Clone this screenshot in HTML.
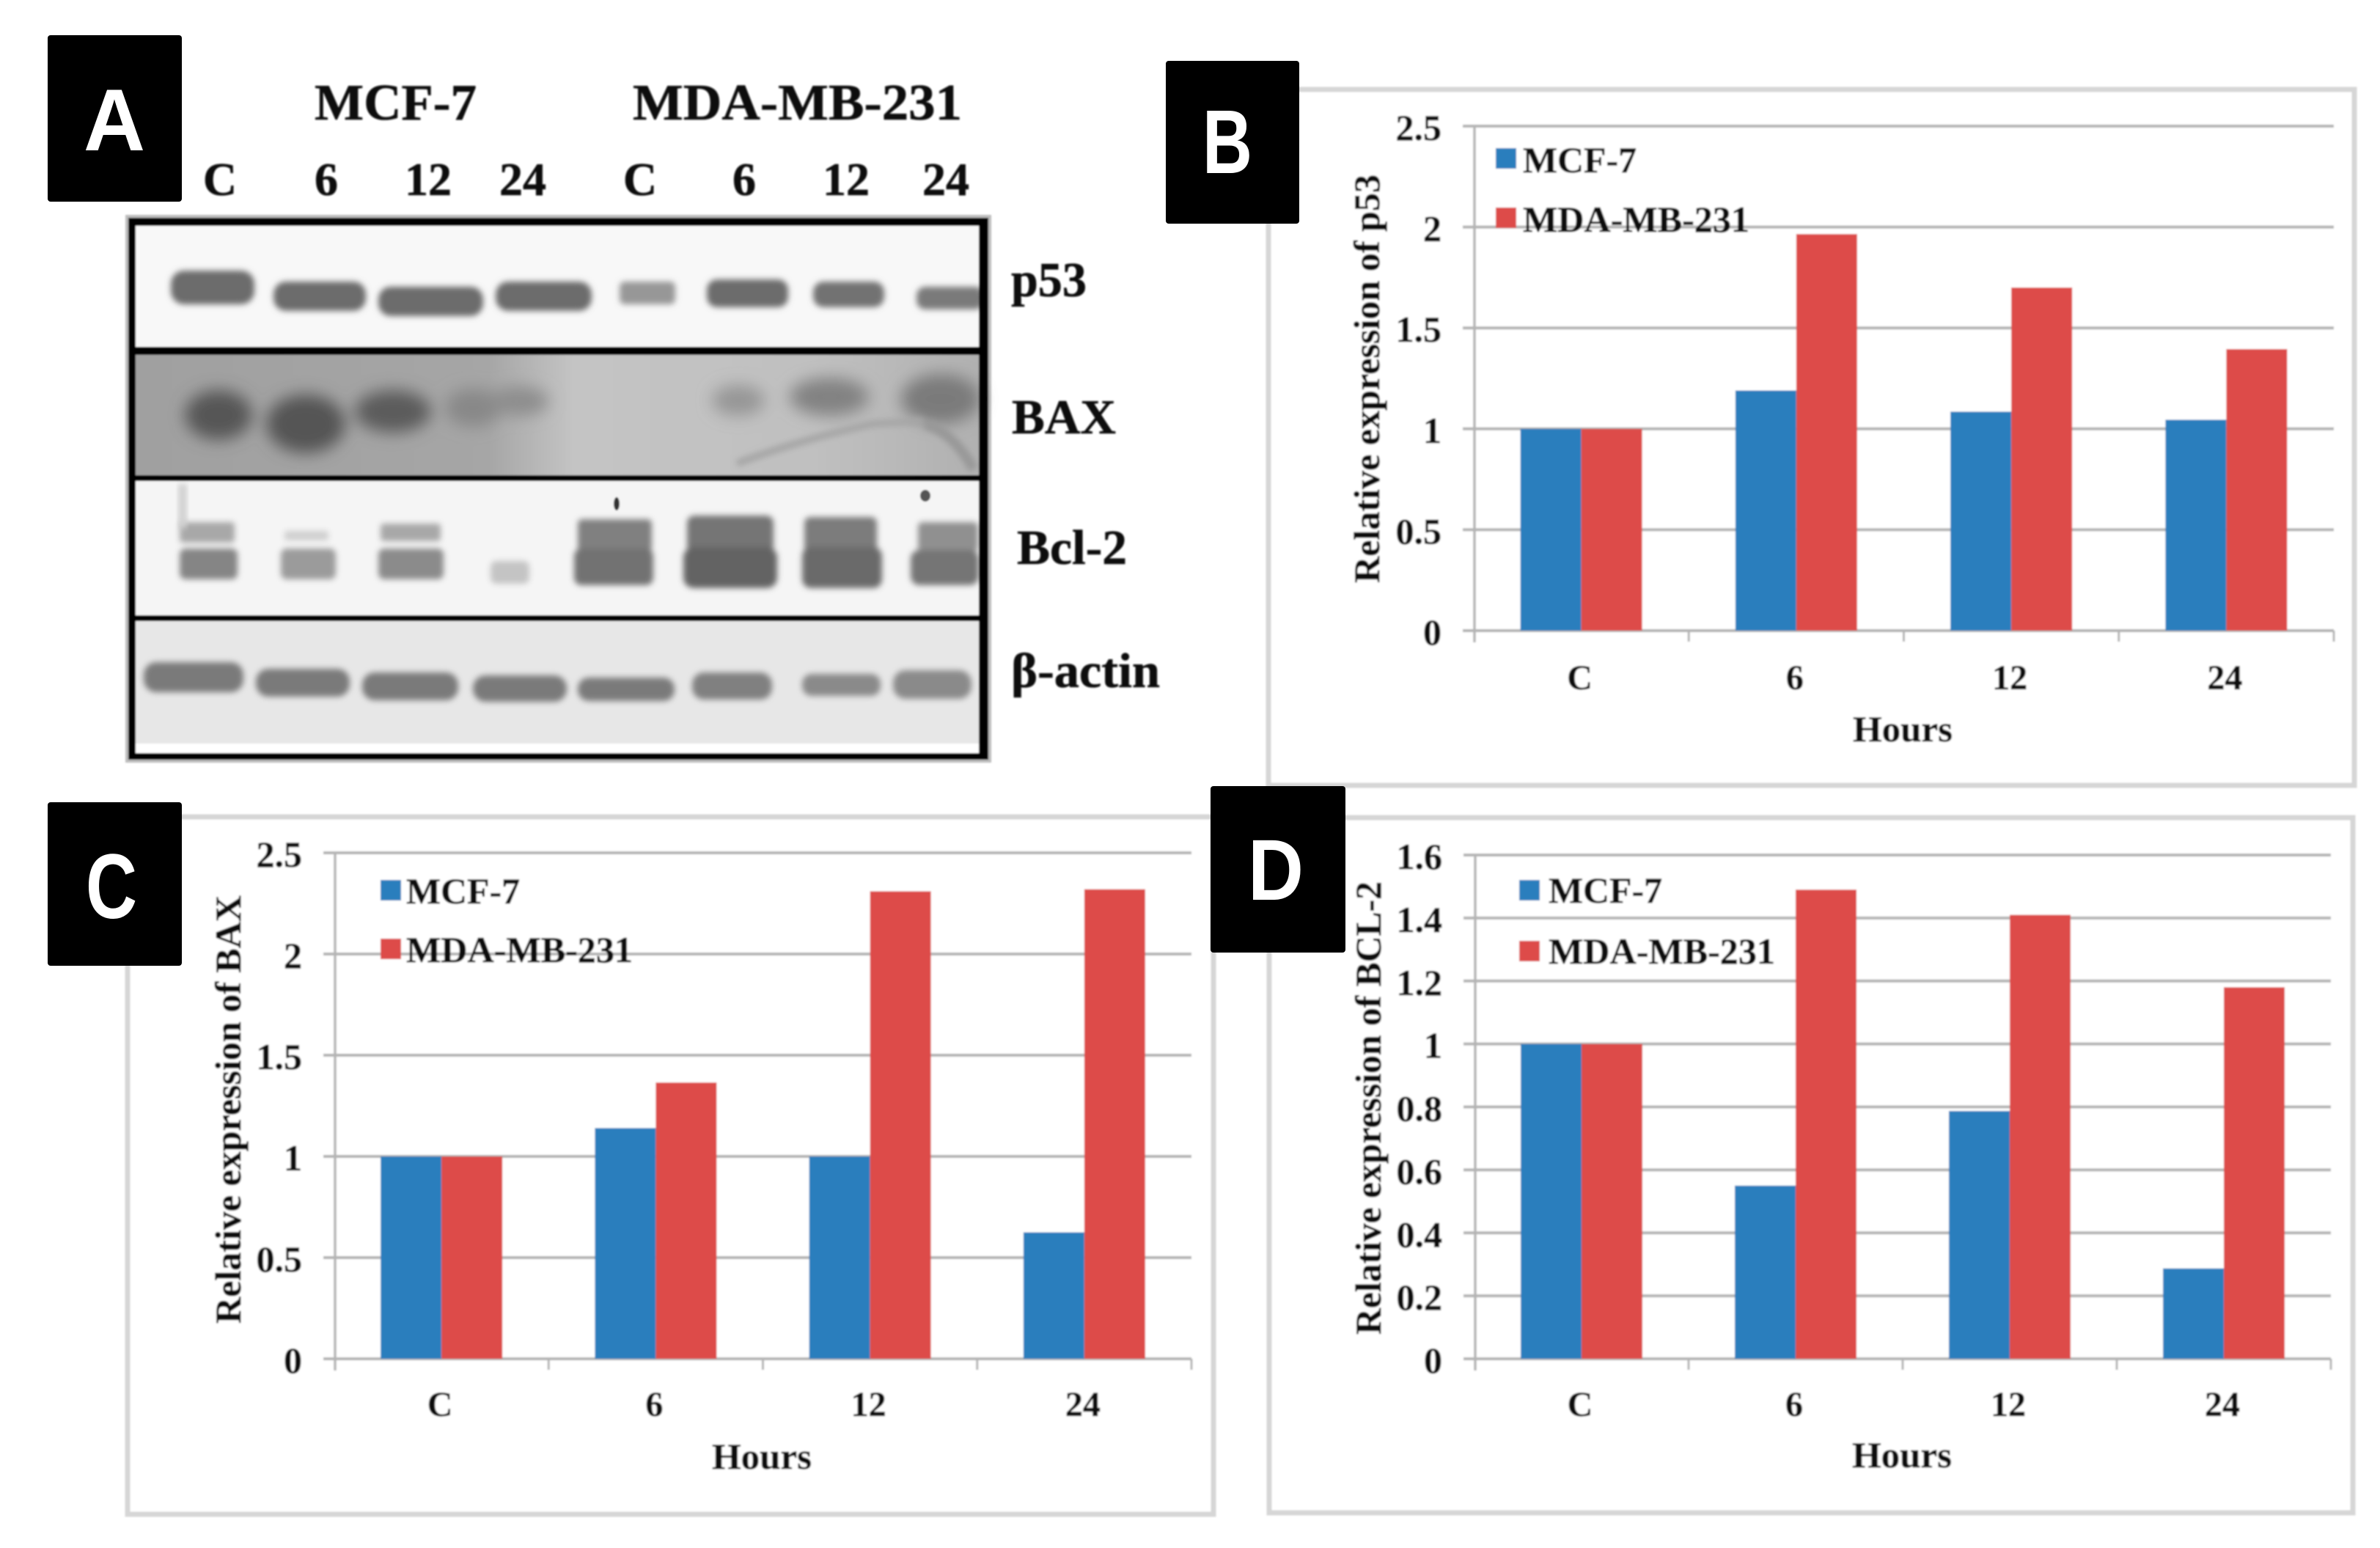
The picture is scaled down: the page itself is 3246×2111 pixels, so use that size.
<!DOCTYPE html>
<html lang="en">
<head>
<meta charset="utf-8">
<title>p53, BAX and Bcl-2 expression in MCF-7 and MDA-MB-231 cells</title>
<style>
html,body{margin:0;padding:0;background:#fff;width:3246px;height:2111px;overflow:hidden}
svg{display:block}
text{font-family:"Liberation Serif",serif;font-weight:bold;fill:#111;stroke:#111;stroke-width:0.6}
.badge-letter{font-family:"Liberation Sans",sans-serif;fill:#fff;stroke:none;text-anchor:middle}
</style>
</head>
<body>
<svg id="figure" xmlns="http://www.w3.org/2000/svg" width="3246" height="2111" viewBox="0 0 3246 2111">
<defs>
<filter id="soft" x="-2%" y="-2%" width="104%" height="104%"><feGaussianBlur stdDeviation="1.1"/></filter>
<filter id="band" x="-20%" y="-50%" width="140%" height="200%"><feGaussianBlur stdDeviation="4"/></filter>
<filter id="blob" x="-50%" y="-50%" width="200%" height="200%"><feGaussianBlur stdDeviation="11"/></filter>
<linearGradient id="baxBg" x1="0" x2="1" y1="0" y2="0">
<stop offset="0" stop-color="#a0a0a0"/><stop offset="0.42" stop-color="#a6a6a6"/><stop offset="0.52" stop-color="#c4c4c4"/><stop offset="0.8" stop-color="#c0c0c0"/><stop offset="1" stop-color="#b0b0b0"/>
</linearGradient>
</defs>

<rect width="3246" height="2111" fill="#ffffff"/>

<g id="panel-a" filter="url(#soft)">
<rect x="171" y="293" width="1181" height="747" fill="#bdbdbd"/>
<rect x="175" y="300" width="1170" height="180" fill="#f8f8f8"/>
<rect x="175" y="480" width="1170" height="172" fill="url(#baxBg)"/>
<rect x="175" y="652" width="1170" height="190" fill="#f5f5f5"/>
<rect x="175" y="842" width="1170" height="190" fill="#e7e7e7"/>
<rect x="185" y="1014" width="1150" height="14" fill="#ffffff"/>

<g fill="#6c6c6c" filter="url(#band)">
<rect x="233" y="369" width="114" height="46" rx="18"/>
<rect x="373" y="384" width="126" height="40" rx="17"/>
<rect x="516" y="391" width="143" height="40" rx="17"/>
<rect x="676" y="384" width="131" height="40" rx="17"/>
<rect x="845" y="384" width="76" height="31" rx="7" fill="#979797"/>
<rect x="964" y="381" width="111" height="38" rx="14"/>
<rect x="1109" y="384" width="97" height="35" rx="14" fill="#727272"/>
<rect x="1250" y="391" width="92" height="31" rx="12" fill="#7a7a7a"/>
</g>

<g filter="url(#blob)">
<ellipse cx="298" cy="566" rx="46" ry="34" fill="#575757"/>
<ellipse cx="417" cy="578" rx="54" ry="40" fill="#555555"/>
<ellipse cx="536" cy="561" rx="52" ry="29" fill="#5c5c5c"/>
<ellipse cx="645" cy="556" rx="38" ry="26" fill="#888888"/>
<ellipse cx="708" cy="547" rx="40" ry="20" fill="#8d8d8d"/>
<ellipse cx="1007" cy="546" rx="36" ry="21" fill="#969696"/>
<ellipse cx="1131" cy="541" rx="54" ry="26" fill="#828282"/>
<ellipse cx="1283" cy="544" rx="54" ry="34" fill="#7a7a7a"/>
</g>
<path d="M1005 632 Q1090 600 1190 578 L1260 574" fill="none" stroke="#a6a6a6" stroke-width="10" filter="url(#band)"/>
<path d="M1262 578 Q1300 590 1328 640" fill="none" stroke="#989898" stroke-width="14" filter="url(#band)"/>

<g filter="url(#band)">
<rect x="245" y="712" width="75" height="28" rx="4" fill="#a8a8a8"/>
<rect x="245" y="748" width="79" height="42" rx="8" fill="#858585"/>
<rect x="388" y="724" width="60" height="13" rx="3" fill="#cfcfcf"/>
<rect x="383" y="748" width="75" height="42" rx="8" fill="#9b9b9b"/>
<rect x="519" y="714" width="82" height="24" rx="4" fill="#a8a8a8"/>
<rect x="516" y="748" width="89" height="42" rx="8" fill="#8b8b8b"/>
<rect x="669" y="765" width="53" height="31" rx="8" fill="#c4c4c4"/>
<rect x="788" y="708" width="101" height="44" rx="6" fill="#808080"/>
<rect x="783" y="748" width="108" height="50" rx="10" fill="#727272"/>
<rect x="937" y="703" width="118" height="52" rx="10" fill="#747474"/>
<rect x="932" y="746" width="128" height="56" rx="14" fill="#646464"/>
<rect x="1097" y="705" width="99" height="50" rx="8" fill="#7c7c7c"/>
<rect x="1094" y="746" width="109" height="56" rx="12" fill="#6a6a6a"/>
<rect x="1252" y="712" width="82" height="40" rx="6" fill="#909090"/>
<rect x="1242" y="750" width="93" height="48" rx="12" fill="#757575"/>
</g>
<rect x="243" y="660" width="12" height="60" fill="#d0d0d0" filter="url(#band)"/>
<ellipse cx="841" cy="687" rx="4" ry="9" fill="#333333"/>
<ellipse cx="1262" cy="676" rx="7" ry="8" fill="#555555"/>

<g fill="#7a7a7a" filter="url(#band)">
<rect x="196" y="903" width="136" height="41" rx="17"/>
<rect x="349" y="912" width="128" height="38" rx="17"/>
<rect x="494" y="917" width="131" height="38" rx="17"/>
<rect x="645" y="921" width="128" height="36" rx="17"/>
<rect x="788" y="924" width="132" height="32" rx="15"/>
<rect x="944" y="917" width="109" height="37" rx="16" fill="#808080"/>
<rect x="1094" y="919" width="107" height="30" rx="13" fill="#8a8a8a"/>
<rect x="1218" y="914" width="107" height="39" rx="17" fill="#8a8a8a"/>
</g>

<g fill="#000000">
<rect x="175" y="297" width="1173" height="11"/>
<rect x="175" y="473" width="1173" height="11"/>
<rect x="175" y="648" width="1173" height="8"/>
<rect x="175" y="839" width="1173" height="8"/>
<rect x="175" y="1027" width="1173" height="9"/>
<rect x="175" y="297" width="10" height="739"/>
<rect x="1335" y="297" width="13" height="739"/>
</g>
</g>

<g filter="url(#soft)">
<text x="429" y="163" font-size="70" textLength="221" lengthAdjust="spacingAndGlyphs">MCF-7</text>
<text x="863" y="163" font-size="70" textLength="449" lengthAdjust="spacingAndGlyphs">MDA-MB-231</text>
<g font-size="64" text-anchor="middle">
<text x="300" y="266">C</text>
<text x="445" y="266">6</text>
<text x="584" y="266">12</text>
<text x="713" y="266">24</text>
<text x="873" y="266">C</text>
<text x="1015" y="266">6</text>
<text x="1154" y="266">12</text>
<text x="1290" y="266">24</text>
</g>
<text x="1379" y="404" font-size="67" textLength="103" lengthAdjust="spacingAndGlyphs">p53</text>
<text x="1380" y="591" font-size="67" textLength="142" lengthAdjust="spacingAndGlyphs">BAX</text>
<text x="1387" y="769" font-size="67" textLength="150" lengthAdjust="spacingAndGlyphs">Bcl-2</text>
<text x="1379" y="937" font-size="67" textLength="203" lengthAdjust="spacingAndGlyphs">β-actin</text>
</g>

<g id="charts" filter="url(#soft)"></g>

<g>
<rect x="65" y="48" width="183" height="227" rx="4" fill="#000000"/>
<text class="badge-letter" x="156" y="205" font-size="120" textLength="84" lengthAdjust="spacingAndGlyphs">A</text>
<rect x="1590" y="83" width="182" height="222" rx="4" fill="#000000"/>
<text class="badge-letter" x="1674" y="236" font-size="123" textLength="68" lengthAdjust="spacingAndGlyphs">B</text>
<rect x="65" y="1094" width="183" height="223" rx="4" fill="#000000"/>
<text class="badge-letter" x="152" y="1252" font-size="125" textLength="70" lengthAdjust="spacingAndGlyphs">C</text>
<rect x="1651" y="1072" width="184" height="227" rx="4" fill="#000000"/>
<text class="badge-letter" x="1740" y="1227" font-size="118" textLength="76" lengthAdjust="spacingAndGlyphs">D</text>
</g>
</svg>

<script>
const categories = ['C', '6', '12', '24'];
const seriesNames = ['MCF-7', 'MDA-MB-231'];

const p53Mcf7 = [1, 1.19, 1.085, 1.045];
const p53Mda = [1, 1.965, 1.70, 1.395];
const p53Ticks = [0, 0.5, 1, 1.5, 2, 2.5];
const p53TickLabels = ['0', '0.5', '1', '1.5', '2', '2.5'];

const baxMcf7 = [1, 1.14, 1, 0.625];
const baxMda = [1, 1.365, 2.31, 2.32];
const baxTicks = [0, 0.5, 1, 1.5, 2, 2.5];
const baxTickLabels = ['0', '0.5', '1', '1.5', '2', '2.5'];

const bclMcf7 = [1, 0.55, 0.787, 0.287];
const bclMda = [1, 1.49, 1.41, 1.18];
const bclTicks = [0, 0.2, 0.4, 0.6, 0.8, 1, 1.2, 1.4, 1.6];
const bclTickLabels = ['0', '0.2', '0.4', '0.6', '0.8', '1', '1.2', '1.4', '1.6'];

const SVG_NS = 'http://www.w3.org/2000/svg';
const BLUE = '#2b7ebd';
const RED = '#dd4c49';
const GRID = '#b4b4b4';

function make(tag, attrs, parent, text) {
  const el = document.createElementNS(SVG_NS, tag);
  for (const key in attrs) el.setAttribute(key, attrs[key]);
  if (text !== undefined) el.textContent = text;
  parent.appendChild(el);
  return el;
}

function drawChart(cfg) {
  const root = document.getElementById('charts');
  const group = make('g', {}, root);
  
  

  const frame = make('rect', {
    x: cfg.frame[0], y: cfg.frame[1],
    width: cfg.frame[2] - cfg.frame[0], height: cfg.frame[3] - cfg.frame[1],
    fill: '#ffffff', stroke: '#d6d6d6', 'stroke-width': 7
  }, group);
  
  

  const maxValue = cfg.ticks[cfg.ticks.length - 1];
  const catWidth = (cfg.right - cfg.x0) / cfg.categories.length;
  const xCenter = function (i) { return cfg.x0 + catWidth * (i + 0.5); };
  const xEdge = function (i) { return cfg.x0 + catWidth * i; };
  const yPos = function (v) { return cfg.y0 - (v / maxValue) * (cfg.y0 - cfg.yTop); };

  cfg.ticks.forEach(function (tick, i) {
    const line = make('line', {
      x1: cfg.x0 - 15, x2: cfg.right, y1: yPos(tick), y2: yPos(tick),
      stroke: GRID, 'stroke-width': 4
    }, group);
    
    

    const label = make('text', {
      x: cfg.x0 - 44, y: yPos(tick) + 19, 'font-size': 50, 'text-anchor': 'end'
    }, group, cfg.tickLabels[i]);
    
    
  });

  const axis = make('line', {
    x1: cfg.x0 + 1, x2: cfg.x0 + 1, y1: yPos(maxValue), y2: cfg.y0 + 16,
    stroke: GRID, 'stroke-width': 3.5
  }, group);
  
  

  for (let i = 1; i <= cfg.categories.length; i++) {
    const tickMark = make('line', {
      x1: xEdge(i), x2: xEdge(i), y1: cfg.y0, y2: cfg.y0 + 15,
      stroke: GRID, 'stroke-width': 3
    }, group);
    
    
  }

  cfg.categories.forEach(function (cat, i) {
    const center = xCenter(i);
    const blueBar = make('rect', {
      x: center - cfg.barWidth, width: cfg.barWidth,
      y: yPos(cfg.blue[i]), height: cfg.y0 - yPos(cfg.blue[i]), fill: BLUE
    }, group);
    
    

    const redBar = make('rect', {
      x: center, width: cfg.barWidth,
      y: yPos(cfg.red[i]), height: cfg.y0 - yPos(cfg.red[i]), fill: RED
    }, group);
    
    

    const catLabel = make('text', {
      x: center - 2, y: cfg.catBaseline, 'font-size': 48, 'text-anchor': 'middle'
    }, group, cat);
    
    
  });

  const xTitle = make('text', {
    x: cfg.hoursX, y: cfg.hoursBaseline, 'font-size': 50, 'text-anchor': 'middle',
    textLength: 136, lengthAdjust: 'spacingAndGlyphs'
  }, group, 'Hours');
  
  

  const yTitle = make('text', {
    transform: 'translate(' + cfg.title.x + ' ' + cfg.title.y + ') rotate(-90)',
    'font-size': 50, textLength: cfg.title.length, lengthAdjust: 'spacingAndGlyphs'
  }, group, cfg.title.text);
  
  

  const colours = [BLUE, RED];
  const legendWidths = [155, 309];
  seriesNames.forEach(function (name, i) {
    const swatch = make('rect', {
      x: cfg.legend.swatchX, y: cfg.legend.swatchY[i], width: 28, height: 28, fill: colours[i]
    }, group);
    
    

    const entry = make('text', {
      x: cfg.legend.textX, y: cfg.legend.baseline[i], 'font-size': 50,
      textLength: legendWidths[i], lengthAdjust: 'spacingAndGlyphs'
    }, group, name);
    
    
  });
}

drawChart({
  id: 'chart-p53', categories: categories, blue: p53Mcf7, red: p53Mda,
  ticks: p53Ticks, tickLabels: p53TickLabels,
  frame: [1730, 122, 3211, 1071], x0: 2010, right: 3183, y0: 860, yTop: 172, barWidth: 83,
  catBaseline: 940, hoursX: 2595, hoursBaseline: 1011,
  title: { x: 1881, y: 795, length: 557, text: 'Relative expression of p53' },
  legend: { swatchX: 2040, swatchY: [202, 283], textX: 2077, baseline: [235, 316] }
});

drawChart({
  id: 'chart-bax', categories: categories, blue: baxMcf7, red: baxMda,
  ticks: baxTicks, tickLabels: baxTickLabels,
  frame: [174, 1114, 1655, 2065], x0: 456, right: 1625, y0: 1853, yTop: 1163, barWidth: 83,
  catBaseline: 1931, hoursX: 1039, hoursBaseline: 2003,
  title: { x: 328, y: 1805, length: 584, text: 'Relative expression of BAX' },
  legend: { swatchX: 519, swatchY: [1200, 1280], textX: 554, baseline: [1232, 1312] }
});

drawChart({
  id: 'chart-bcl2', categories: categories, blue: bclMcf7, red: bclMda,
  ticks: bclTicks, tickLabels: bclTickLabels,
  frame: [1731, 1115, 3209, 2063], x0: 2011, right: 3179, y0: 1853, yTop: 1166, barWidth: 83,
  catBaseline: 1931, hoursX: 2594, hoursBaseline: 2001,
  title: { x: 1883, y: 1820, length: 618, text: 'Relative expression of BCL-2' },
  legend: { swatchX: 2072, swatchY: [1200, 1283], textX: 2112, baseline: [1231, 1314] }
});
</script>
</body>
</html>
